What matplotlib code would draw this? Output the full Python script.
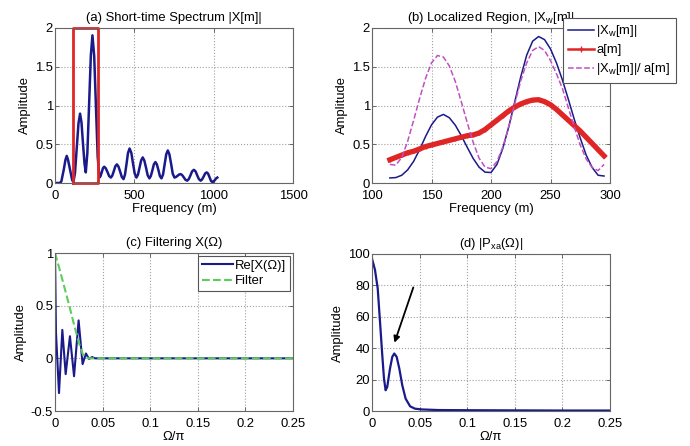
import matplotlib
matplotlib.use("Agg")
import matplotlib.pyplot as plt
from matplotlib.ticker import FuncFormatter

plt.rcParams['font.family'] = ['Liberation Sans', 'DejaVu Sans']
plt.rcParams['mathtext.default'] = 'regular'
FS = 9.4
plt.rcParams['font.size'] = FS

# ---------------- data ----------------
# (a) short-time spectrum
a_freq = [0, 30, 40, 55, 66, 74, 82, 95, 108, 116, 126, 137, 148, 158, 167, 176, 186, 194,
          204, 215, 226, 236, 247, 258, 269, 280, 287, 295, 302, 310, 320, 331, 341, 352,
          361, 371, 380, 390, 400, 411, 421, 432, 441, 451, 460, 470, 481, 491, 502, 513,
          523, 533, 543, 553, 563, 574, 584, 595, 604, 614, 623, 633, 642, 652, 661, 671,
          681, 691, 701, 711, 721, 732, 742, 753, 762, 772, 781, 791, 801, 812, 822, 833,
          843, 854, 864, 875, 886, 896, 907, 918, 927, 937, 946, 956, 965, 974, 983, 992,
          1000, 1008, 1016, 1023]
a_amp = [0, 0, 0.02, 0.17, 0.30, 0.35, 0.30, 0.17, 0.04, 0.01, 0.13, 0.45, 0.77, 0.895, 0.78, 0.52, 0.25, 0.137,
         0.39, 1.02, 1.65, 1.905, 1.64, 0.99, 0.34, 0.07, 0.09, 0.14, 0.19, 0.21, 0.19, 0.14, 0.09, 0.07,
         0.095, 0.155, 0.215, 0.24, 0.212, 0.145, 0.078, 0.05, 0.108, 0.25, 0.387, 0.445, 0.39, 0.26, 0.125, 0.07,
         0.108, 0.20, 0.292, 0.33, 0.29, 0.195, 0.10, 0.06, 0.09, 0.165, 0.24, 0.27, 0.24, 0.165, 0.09, 0.06,
         0.11, 0.24, 0.37, 0.42, 0.37, 0.245, 0.12, 0.07, 0.077, 0.092, 0.108, 0.115, 0.103, 0.072, 0.042, 0.03,
         0.05, 0.10, 0.15, 0.17, 0.15, 0.10, 0.05, 0.03, 0.046, 0.084, 0.122, 0.137, 0.12, 0.074, 0.028, 0.01,
         0.02, 0.04, 0.06, 0.07]
box_x = [116, 270]
box_y = [0, 2.0]

# (b) localized region
b_freq = [115, 120, 125, 130, 135, 140, 145, 150, 155, 160, 165, 170, 175, 180, 185, 190, 195, 200,
          205, 210, 215, 220, 225, 230, 235, 240, 245, 250, 255, 260, 265, 270, 275, 280, 285, 290, 295]
b_xw = [0.065, 0.07, 0.10, 0.17, 0.28, 0.43, 0.60, 0.75, 0.85, 0.885, 0.842, 0.746, 0.612, 0.461, 0.317, 0.204, 0.14, 0.135,
        0.24, 0.45, 0.73, 1.05, 1.37, 1.65, 1.83, 1.89, 1.85, 1.73, 1.55, 1.33, 1.08, 0.82, 0.58, 0.36, 0.20, 0.10, 0.09]
b_am = [0.30, 0.33, 0.36, 0.39, 0.41, 0.44, 0.47, 0.49, 0.51, 0.53, 0.55, 0.57, 0.59, 0.61, 0.62, 0.645, 0.69, 0.75,
        0.81, 0.87, 0.93, 0.98, 1.02, 1.05, 1.07, 1.075, 1.05, 1.01, 0.95, 0.88, 0.81, 0.74, 0.67, 0.59, 0.51, 0.43, 0.35]
b_ratio = [0.24, 0.23, 0.33, 0.54, 0.81, 1.09, 1.35, 1.55, 1.645, 1.625, 1.51, 1.31, 1.05, 0.78, 0.525, 0.32, 0.205, 0.185,
           0.276, 0.466, 0.73, 1.025, 1.32, 1.55, 1.71, 1.76, 1.71, 1.58, 1.41, 1.22, 0.97, 0.72, 0.49, 0.31, 0.20, 0.16, 0.24]

# (c) filtering
c_omega = [0, 0.001, 0.0042, 0.0077, 0.0112, 0.0157, 0.02, 0.0248, 0.029, 0.0325, 0.0357, 0.039, 0.042, 0.046, 0.25]
c_re = [1.0, 0.25, -0.33, 0.27, -0.15, 0.21, -0.17, 0.36, -0.055, 0.046, -0.006, 0.012, 0.0, 0.0, 0.0]
filt_omega = [0, 0.005, 0.01, 0.015, 0.02, 0.025, 0.03, 0.035, 0.25]
filt_amp = [1.0, 0.84, 0.67, 0.5, 0.32, 0.15, 0.02, 0.0, 0.0]

# (d) |Pxa|
d_omega = [0, 0.0031, 0.006, 0.0084, 0.0108, 0.0126, 0.0143, 0.016, 0.0189, 0.0213, 0.0234, 0.0259, 0.0287,
           0.0318, 0.0353, 0.04, 0.045, 0.052, 0.07, 0.1, 0.15, 0.2, 0.25]
d_amp = [97, 90, 78, 57, 35.5, 20.6, 13.2, 15.3, 27, 34.5, 36.6, 34.5, 27,
         16.4, 7.9, 3.0, 1.5, 1.0, 0.6, 0.5, 0.4, 0.3, 0.3]
arrow_from = (0.0434, 78.7)
arrow_to = (0.0236, 43.5)

# ---------------- styling ----------------
BLUE = '#1a1a8a'
RED = '#e02525'
PINK = '#c24fc2'
GREEN = '#5ccc5c'
fmt = FuncFormatter(lambda v, p: '%g' % v)


def style(ax):
    ax.grid(True, linestyle=':', color='#a0a0a0', linewidth=0.8)
    ax.tick_params(direction='in', top=True, right=True, length=3, width=0.6, color='#555555')
    ax.tick_params(axis='x', pad=5)
    ax.tick_params(axis='y', pad=1.5)
    for s in ax.spines.values():
        s.set_color('#666666')
        s.set_linewidth(0.8)
    ax.xaxis.set_major_formatter(fmt)
    ax.yaxis.set_major_formatter(fmt)


fig = plt.figure(figsize=(6.9, 4.46), dpi=100)
W, H = 690.0, 446.0
ax_a = fig.add_axes([55 / W, 1 - 183 / H, 238 / W, 155 / H])
ax_b = fig.add_axes([372 / W, 1 - 183 / H, 238 / W, 155 / H])
ax_c = fig.add_axes([55 / W, 1 - 411 / H, 238 / W, 158 / H])
ax_d = fig.add_axes([372 / W, 1 - 411 / H, 238 / W, 157 / H])

# (a)
ax_a.plot(a_freq, a_amp, color=BLUE, lw=1.8)
ax_a.plot([box_x[0], box_x[1], box_x[1], box_x[0], box_x[0]],
          [box_y[0], box_y[0], box_y[1], box_y[1], box_y[0]], color=RED, lw=2, clip_on=False)
ax_a.set_xlim(0, 1500)
ax_a.set_ylim(0, 2)
ax_a.set_xticks([0, 500, 1000, 1500])
ax_a.set_yticks([0, 0.5, 1, 1.5, 2])
ax_a.set_title('(a) Short-time Spectrum |X[m]|', fontsize=FS, pad=5)
ax_a.set_xlabel('Frequency (m)', labelpad=1)
ax_a.set_ylabel('Amplitude', labelpad=3)
style(ax_a)

# (b)
ax_b.plot(b_freq, b_xw, color=BLUE, lw=1.1, label='|X$_w$[m]|')
ax_b.plot(b_freq, b_am, color=RED, lw=3.8, marker='+', markersize=3, markevery=1, label='a[m]')
ax_b.plot(b_freq, b_ratio, color=PINK, lw=1.1, ls='--', label='|X$_w$[m]|/ a[m]')
ax_b.set_xlim(100, 300)
ax_b.set_ylim(0, 2)
ax_b.set_xticks([100, 150, 200, 250, 300])
ax_b.set_yticks([0, 0.5, 1, 1.5, 2])
ax_b.set_title('(b) Localized Region, |X$_w$[m]|', fontsize=FS, pad=5)
ax_b.set_xlabel('Frequency (m)', labelpad=1)
ax_b.set_ylabel('Amplitude', labelpad=3)
style(ax_b)
handles, labels = ax_b.get_legend_handles_labels()
handles[1] = plt.Line2D([], [], color=RED, lw=1.8, marker='+', markersize=5)
leg = fig.legend(handles, labels, loc='upper left', bbox_to_anchor=(563 / W, 1 - 18 / H),
                 bbox_transform=fig.transFigure, frameon=True, fancybox=False, framealpha=1,
                 edgecolor='#555555', fontsize=FS, handlelength=2.0, handletextpad=0.15,
                 borderpad=0.4, labelspacing=0.38, borderaxespad=0)
leg.get_frame().set_linewidth(0.8)

# (c)
ax_c.plot(c_omega, c_re, color=BLUE, lw=1.5, label='Re[X(Ω)]')
ax_c.plot(filt_omega, filt_amp, color=GREEN, lw=1.5, ls='--', label='Filter')
ax_c.set_xlim(0, 0.25)
ax_c.set_ylim(-0.5, 1)
ax_c.set_xticks([0, 0.05, 0.1, 0.15, 0.2, 0.25])
ax_c.set_yticks([-0.5, 0, 0.5, 1])
ax_c.set_title('(c) Filtering X(Ω)', fontsize=FS, pad=5)
ax_c.set_xlabel('Ω/π', labelpad=1)
ax_c.set_ylabel('Amplitude', labelpad=3)
style(ax_c)
leg_c = ax_c.legend(loc='upper right', frameon=True, fancybox=False, framealpha=1,
                    edgecolor='#555555', fontsize=FS, handlelength=2.4, handletextpad=0.15,
                    borderpad=0.3, labelspacing=0.25, borderaxespad=0.2)
leg_c.get_frame().set_linewidth(0.8)

# (d)
ax_d.plot(d_omega, d_amp, color=BLUE, lw=1.6)
ax_d.annotate('', xy=arrow_to, xytext=arrow_from,
              arrowprops=dict(arrowstyle='-|>', color='black', lw=1.3, mutation_scale=9,
                              shrinkA=0, shrinkB=0))
ax_d.set_xlim(0, 0.25)
ax_d.set_ylim(0, 100)
ax_d.set_xticks([0, 0.05, 0.1, 0.15, 0.2, 0.25])
ax_d.set_yticks([0, 20, 40, 60, 80, 100])
ax_d.set_title('(d) |P$_{xa}$(Ω)|', fontsize=FS, pad=5)
ax_d.set_xlabel('Ω/π', labelpad=1)
ax_d.set_ylabel('Amplitude', labelpad=3)
style(ax_d)

fig.savefig('out.png', dpi=100)
